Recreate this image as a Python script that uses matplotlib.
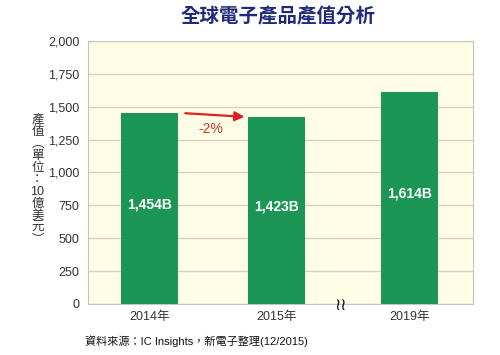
import matplotlib.pyplot as plt

plt.rcParams['font.family'] = ['Liberation Sans', 'Noto Sans CJK TC', 'DejaVu Sans']

# 資料
years = ['2014年', '2015年', '2019年']
values = [1454, 1423, 1614]
value_labels = ['1,454B', '1,423B', '1,614B']
yticks = [0, 250, 500, 750, 1000, 1250, 1500, 1750, 2000]
ytick_labels = ['0', '250', '500', '750', '1,000', '1,250', '1,500', '1,750', '2,000']
xpos = [0, 1, 2.05]

fig = plt.figure(figsize=(5, 3.55), dpi=100)
ax = fig.add_axes([0.176, 0.1437, 0.77, 0.7408])
ax.set_facecolor('#FFFDE6')

ax.bar(xpos, values, width=0.45, color='#1B9655', zorder=3)
for x, v, lab in zip(xpos, values, value_labels):
    ax.text(x, v * 0.52, lab, color='white', fontsize=10, fontweight='bold',
            ha='center', va='center', zorder=4)

ax.set_xlim(-0.484, 2.547)
ax.set_ylim(0, 2000)
ax.set_yticks(yticks)
ax.set_yticklabels(ytick_labels)
ax.set_xticks(xpos)
ax.set_xticklabels(years)
ax.tick_params(length=0, labelsize=9, colors='#333333', pad=6)
ax.tick_params(axis='x', pad=5)
ax.grid(axis='y', color='#D6D2BE', linewidth=1, zorder=1)
for s in ax.spines.values():
    s.set_color('#C8C6B8')

# 箭頭 -2%
ax.annotate('', xy=(0.77, 1422), xytext=(0.26, 1452),
            arrowprops=dict(arrowstyle='-|>', color='#E02020', lw=1.6,
                            mutation_scale=14), zorder=5)
ax.text(0.48, 1330, '-2%', color='#C0392B', fontsize=10, ha='center', va='center')

# 斷軸符號
ax.text(1.508, -10, '≀≀', fontsize=12, family='DejaVu Sans', ha='center',
        va='center', color='#111111', clip_on=False, zorder=6)

fig.text(0.556, 0.952, '全球電子產品產值分析', fontsize=14, fontweight='bold',
         color='#1F2A7A', ha='center', va='center')

ylabel = '\n'.join(['產', '值', '︵', '單', '位', '：', '10', '億', '美', '元', '︶'])
fig.text(0.075, 0.493, ylabel, fontsize=9, color='#333333', ha='center',
         va='center', linespacing=1.0)

fig.text(0.393, 0.04, '資料來源：IC Insights，新電子整理(12/2015)', fontsize=8,
         color='#111111', ha='center', va='center')

plt.savefig('out.png')
